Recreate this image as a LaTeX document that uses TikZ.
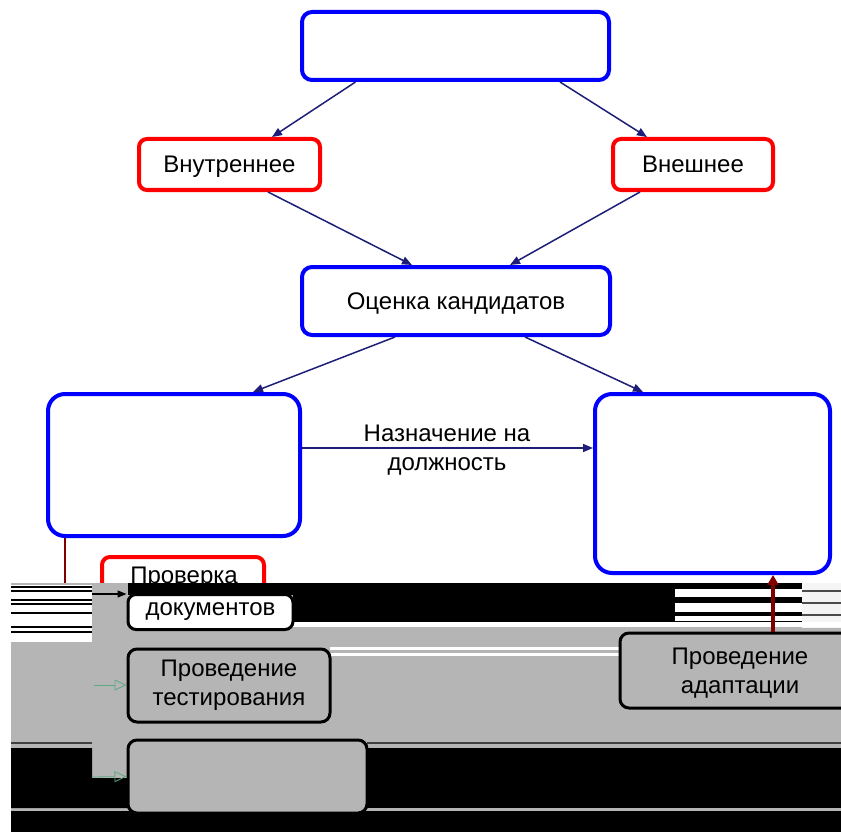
\documentclass[tikz,border=0pt]{standalone}
\usepackage{fontspec}
\setmainfont{Liberation Sans}
\usetikzlibrary{arrows.meta}
\definecolor{bbl}{RGB}{0,0,255}
\definecolor{rrd}{RGB}{255,0,0}
\definecolor{nav}{RGB}{30,30,120}
\definecolor{gbg}{RGB}{181,181,181}
\definecolor{drd}{RGB}{128,0,0}
\definecolor{grn}{RGB}{90,170,130}
\begin{document}
\begin{tikzpicture}[x=1pt,y=-1pt,
 bluebox/.style={draw=bbl,line width=4pt,rounded corners=10pt,fill=white,inner sep=0pt},
 bigbox/.style={bluebox,rounded corners=17pt},
 redbox/.style={draw=rrd,line width=4pt,rounded corners=8pt,fill=white,inner sep=0pt},
 blackbox/.style={draw=black,line width=3pt,rounded corners=9pt,fill=gbg,inner sep=0pt},
 lab/.style={font=\fontsize{24}{29}\selectfont,align=center,inner sep=0pt},
 one/.style={text depth=0pt},
 conn/.style={draw=nav,line width=1.5pt,-{Triangle[length=10pt,width=8pt]}},
]
\useasboundingbox (0,0) rectangle (841,832);
% upper part
\node[bluebox,minimum width=307pt,minimum height=68pt] (top) at (455.5,46) {};
\node[redbox,minimum width=181pt,minimum height=51pt,lab,one] (inn) at (229.5,164.5) {Внутреннее};
\node[redbox,minimum width=160pt,minimum height=51pt,lab,one] (ext) at (693,164.5) {Внешнее};
\node[bluebox,minimum width=308pt,minimum height=68pt,lab,one] (eval) at (456,301) {Оценка кандидатов};
\node[bigbox,minimum width=252pt,minimum height=142pt] (left) at (174,465) {};
\node[bigbox,minimum width=235pt,minimum height=179pt] (right) at (712.5,483.5) {};
\draw[conn] ([xshift=-100pt]top.south) -- ([xshift=42.5pt]inn.north);
\draw[conn] ([xshift=104.5pt]top.south) -- ([xshift=-46pt]ext.north);
\draw[conn] ([xshift=38.5pt]inn.south) -- ([xshift=-44pt]eval.north);
\draw[conn] ([xshift=-53pt]ext.south) -- ([xshift=54pt]eval.north);
\draw[conn] ([xshift=-61pt]eval.south) -- ([xshift=79pt]left.north);
\draw[conn] ([xshift=69pt]eval.south) -- ([xshift=-69.5pt]right.north);
\draw[conn] ([yshift=17pt]left.east) -- ([yshift=17pt]left.east -| right.west);
\node[lab] (lbl) at (447,450) {Назначение на\\должность};
% red line from left box
\draw[drd,line width=1.2pt] ([xshift=-109pt]left.south) -- ++(0,47);
% document check box (top, red)
\node[redbox,minimum width=162pt,minimum height=70pt] (chk) at (183,592) {};
\node[lab,one] (chkt) at (184,575) {Проверка};
% lower distorted band
\fill[gbg] (11,583) rectangle (841,832);
\fill[white] (11,585) rectangle (92,642);
\foreach \yy in {586,590,599,603,612,626,631} \fill[black] (11,\yy) rectangle (92,\yy+1.6);
\fill[black] (128,583) rectangle (672,595);
\fill[black] (293,583) rectangle (672,622);
\fill[black] (672,583) rectangle (802,622);
\fill[white] (675,589) rectangle (802,597);
\fill[white] (675,603) rectangle (802,612);
\fill[white] (675,616) rectangle (802,621);
\fill[white!92!gray] (802,583) rectangle (841,628);
\foreach \yy in {590,602,614,624} \fill[black!70] (802,\yy) rectangle (841,\yy+1.5);
\fill[white] (293,622) rectangle (841,627);
\fill[white] (330,647) rectangle (620,650);
\fill[white] (330,653) rectangle (620,656);
\fill[black] (11,748) -- (92,748) -- (92,778) -- (128,778) -- (128,808) -- (11,808) -- cycle;
\fill[black] (367,748) rectangle (841,808);
\fill[black!75] (11,742) rectangle (92,744);
\fill[black!75] (367,742) rectangle (841,744);
\fill[black] (11,811) rectangle (841,832);
% lower boxes
\node[draw=black,line width=3pt,rounded corners=8pt,fill=white,minimum width=165pt,minimum height=35pt,lab] (docs) at (210.5,612) {документов};
\node[blackbox,minimum width=202pt,minimum height=73pt,lab] (tst) at (229,685.5) {Проведение\\тестирования};
\node[blackbox,minimum width=239pt,minimum height=73pt] (emp) at (247.5,776.5) {};
\node[blackbox,minimum width=240pt,minimum height=75pt] (adp) at (740,670.5) {};
\node[lab] (adpt) at (740,673.5) {Проведение\\адаптации};
% connectors in the lower part
\coordinate (b1) at (92,594);
\coordinate (b2) at (94,685);
\coordinate (b3) at (92,777);
\draw[black,line width=1.2pt,-{Triangle[length=9pt,width=7pt]}] (b1) -- (b1 -| docs.west);
\draw[grn,line width=0.8pt,-{Triangle[open,length=12pt,width=11pt]}] (b2) -- (b2 -| tst.west);
\draw[grn,line width=0.8pt,-{Triangle[open,length=12pt,width=11pt]}] (b3) -- (emp.west);
\draw[drd,line width=4pt,-{Triangle[length=10pt,width=11pt]}] ([xshift=33pt]adp.north) -- ([xshift=33pt]adp.north |- right.south);
\end{tikzpicture}
\end{document}
